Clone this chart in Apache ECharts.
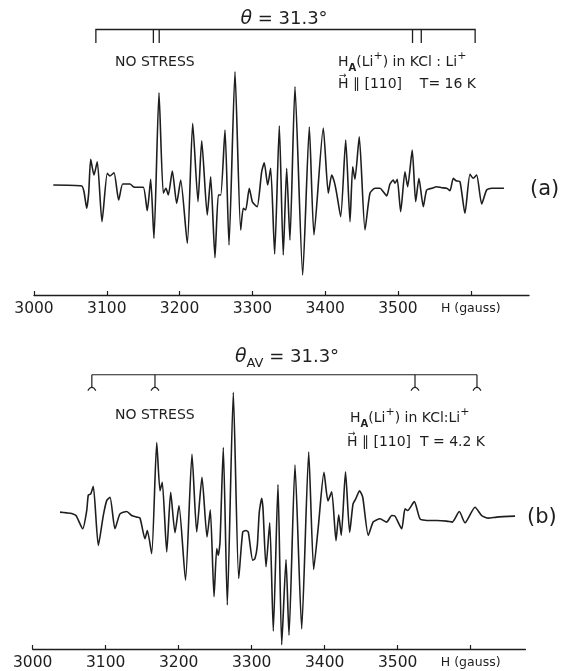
<!DOCTYPE html>
<html>
<head>
<meta charset="utf-8">
<script src="https://cdn.jsdelivr.net/npm/echarts@6/dist/echarts.min.js"></script>
<style>html,body{margin:0;padding:0;background:#fff}#c{width:563px;height:671px}</style>
</head>
<body>
<div id="c"></div>
<script>
// ---- data ----
const tickValues = [3000, 3100, 3200, 3300, 3400, 3500, 3600];
const tickLabels = ['3000', '3100', '3200', '3300', '3400', '3500', 'H (gauss)'];

// spectrum (a): field (gauss) and derivative signal (arb.)
const fieldA = [3026.5,3065.5,3068.7,3072.4,3075.1,3077.9,3082.4,3086.9,3093.4,3100.7,3104.4,3109.9,3116.3,3121.8,3127.3,3131.9,3136.4,3141.1,3150.1,3155.6,3160.3,3164.8,3171.7,3177.6,3181.3,3184.5,3190,3196,3201.5,3210.6,3218,3225.3,3230.4,3238,3242.7,3248.6,3253.2,3256.5,3262.4,3267.9,3276.1,3283.9,3287.5,3290.8,3295.7,3299.9,3303.6,3306.7,3312.8,3316.3,3321,3325.1,3330.6,3337,3342.4,3347.1,3351.6,3358.5,3369.1,3378.2,3384.6,3397.4,3404.3,3408.9,3412.5,3415.8,3421.3,3428.2,3434.1,3437.8,3440.9,3446.8,3454.7,3461.5,3468.4,3475.3,3479.8,3484.5,3489,3493.5,3495.9,3499,3503.7,3509.6,3513.3,3519.6,3524.3,3528.8,3534.8,3539.4,3546.3,3553.2,3560,3566.9,3571.4,3576,3579.7,3585.2,3592,3598.9,3603.4,3608.1,3615,3621.8,3628.7,3645.6];
const signalA = [0,-1,-6.7,-23.3,-8.3,25.7,10,23.3,-36.7,11.7,9,12.3,-15,1,1,1,-1.7,-2.3,-2.3,-25.7,5.7,-53.3,92.3,-8.3,-3.3,-10,14,-18.3,5,-58.3,61.7,-16.7,44.3,-30,8.3,-72.7,-10,-10,55,-60,113.3,-45,-23.3,-25,-3.3,-16.7,-20,-21.7,13.3,22.3,0,16.7,-69,59.3,-70,16.7,-55,98.3,-90,58,-50,57,-8.3,10,3.3,-8.3,-31.7,45,-36.7,18.3,5.7,48.3,-45,-8.3,-3.3,-3.3,-6.7,-11,1,5,1.7,5.7,-26.7,13.3,-1.7,35,-16.7,6.7,-21.7,-5,-3.3,-1.7,-2.7,-3.3,-5.7,6.7,4.3,3.3,-28.3,10.7,6.7,10,-19,-5,-3.3,-3.3];

// spectrum (b)
const fieldB = [3037.4,3046.6,3053.4,3059.3,3068.5,3074,3076.2,3079.5,3083,3089.9,3096.7,3101.4,3105.9,3112.7,3119.6,3128.8,3135.6,3142.5,3147,3153.8,3157,3163,3169.9,3174.4,3177.5,3183.6,3189,3194.9,3200.4,3209.3,3218.2,3224.7,3231.9,3238.8,3243.3,3248.4,3252.1,3254.2,3256.6,3261.1,3266.6,3274.8,3282.2,3287.7,3292.2,3295.3,3301.4,3304.5,3307.7,3310.4,3313.7,3315.5,3319.6,3324.7,3329.6,3336,3341.1,3347,3351.1,3359.3,3368.5,3378.1,3384.9,3391.2,3399,3404.5,3409.6,3415.5,3419.2,3422.7,3428.5,3434.2,3438.8,3442.5,3447.7,3452.1,3459.7,3466.6,3475.8,3484.9,3491.8,3496.3,3505.5,3510,3513.7,3522.7,3530.5,3539.7,3553.4,3567.1,3574.8,3584.4,3592.2,3605.9,3615.1,3624.1,3635.6,3660.7];
const signalB = [1.7,1,0.3,-1.7,-15,3.3,19,20,27.7,-31.7,-1.7,13.3,16.7,-15,0,2.3,-1.7,-3.3,-4.3,-25,-16.7,-40,71.7,23.3,31.7,-38.3,21.7,-19,8.3,-66.7,60,-18.3,36.7,-23.3,4,-83.3,-35,-41.7,-28.3,66.7,-91.7,122.3,-65,-18.3,-16.7,-18.3,-46.7,-45,-31.7,1.7,15.7,5,-53.3,-9,-118,29.5,-131.7,-46,-122,49,-115.7,62.3,-56,-13.3,41.7,13,22.3,-27,-1,-21.7,42.3,-18.7,10,15,23.3,16.7,-21.7,-8,-5,-8.3,-1.7,-2.3,-15,5,3.3,12.3,-5,-6.7,-6.7,-7.3,-8.3,2.3,-9,6.7,-1.7,-4.3,-3.3,-2.3];

// stick diagrams (line positions, gauss)
const bracketA = [3085, 3606];
const sticksA = [3164, 3172, 3520, 3532];
const sticksB = [3081, 3167.5, 3523.7, 3608.6];

// ---- build ----
const zip = (xs, ys) => xs.map((x, i) => [x, ys[i]]);
const INK = '#1e1e1e';
const FONT = 'DejaVu Sans';

const barTopA = 155.5, barLowA = 142;
const stickDataA = [{coords: [[bracketA[0], barLowA], [bracketA[0], barTopA], [bracketA[1], barTopA], [bracketA[1], barLowA]]}]
  .concat(sticksA.map(g => ({coords: [[g, barTopA], [g, barLowA]]})));

const barTopB = 140, barLowB = 127.5;
const stickDataB = [{coords: [[sticksB[0], barTopB], [sticksB[sticksB.length - 1], barTopB]]}];
sticksB.forEach(g => {
  stickDataB.push({coords: [[g, barTopB], [g, barLowB]]});
  stickDataB.push({coords: [[g - 5.5, barLowB - 3.5], [g - 3, barLowB - 1], [g, barLowB], [g + 3, barLowB - 1], [g + 5.5, barLowB - 3.5]]});
});

function xAxisCfg(gridIndex, max) {
  return {
    type: 'value', gridIndex: gridIndex, min: 3000, max: max,
    axisLine: {show: true, onZero: false, lineStyle: {color: INK, width: 1.3}},
    axisTick: {show: true, inside: true, length: 4, customValues: tickValues, lineStyle: {color: INK, width: 1.2}},
    axisLabel: {
      customValues: tickValues, margin: 6, color: INK, fontFamily: FONT, fontSize: 15.5,
      formatter: v => {
        const i = tickValues.indexOf(v);
        if (i < 0) return '';
        return i === tickValues.length - 1 ? '{u|' + tickLabels[i] + '}' : tickLabels[i];
      },
      rich: {u: {fontSize: 12.5, fontFamily: FONT, color: INK, padding: [1, 0, 0, 0]}}
    },
    splitLine: {show: false}
  };
}

const richLabel = {
  m: {fontSize: 14, fontFamily: FONT, lineHeight: 22, verticalAlign: 'middle', fill: INK},
  s: {fontSize: 10, fontFamily: FONT, fontWeight: 'bold', lineHeight: 9, verticalAlign: 'bottom', fill: INK},
  p: {fontSize: 11, fontFamily: FONT, lineHeight: 11, verticalAlign: 'top', fill: INK},
  big: {fontSize: 18, fontFamily: FONT, lineHeight: 26, verticalAlign: 'middle', fill: INK},
  th: {fontSize: 19, fontFamily: FONT, fontStyle: 'italic', lineHeight: 26, verticalAlign: 'middle', fill: INK},
  sub: {fontSize: 13, fontFamily: FONT, lineHeight: 12, verticalAlign: 'bottom', fill: INK}
};
function txt(x, y, text, align, extra) {
  return {
    type: 'text', x: x, y: y, silent: true,
    style: Object.assign({text: text, fill: INK, font: '14px "DejaVu Sans"', align: align || 'left', verticalAlign: 'middle', rich: richLabel}, extra || {})
  };
}

const graphics = [
  txt(284, 19, '{th|θ}{big| = 31.3°}', 'center'),
  txt(115, 62, '{m|NO STRESS}'),
  txt(338, 62, '{m|H}{s|A}{m|(Li}{p|+}{m|) in KCl : Li}{p|+}'),
  txt(338, 84, '{m|H ∥ [110]    T= 16 K}'),
  txt(339, 76, '→', 'left', {font: '9px "DejaVu Sans"'}),
  txt(530, 190, '(a)', 'left', {font: '21px "DejaVu Sans"'}),

  txt(287, 357, '{th|θ}{sub|AV}{big| = 31.3°}', 'center'),
  txt(115, 415, '{m|NO STRESS}'),
  txt(350, 418, '{m|H}{s|A}{m|(Li}{p|+}{m|) in KCl:Li}{p|+}'),
  txt(347, 442, '{m|H ∥ [110]  T = 4.2 K}'),
  txt(348, 434, '→', 'left', {font: '9px "DejaVu Sans"'}),
  txt(527, 518, '(b)', 'left', {font: '21px "DejaVu Sans"'})
];

const chart = echarts.init(document.getElementById('c'), null, {renderer: 'canvas'});
chart.setOption({
  animation: false,
  backgroundColor: '#fff',
  grid: [
    {left: 34, width: 495, top: 0, height: 295},
    {left: 32.7, width: 492.75, top: 331, height: 320}
  ],
  xAxis: [xAxisCfg(0, 3680), xAxisCfg(1, 3675)],
  yAxis: [
    {type: 'value', gridIndex: 0, min: -110, max: 185, show: false},
    {type: 'value', gridIndex: 1, min: -136, max: 184, show: false}
  ],
  series: [
    {type: 'line', xAxisIndex: 0, yAxisIndex: 0, data: zip(fieldA, signalA), showSymbol: false, smooth: 0.2,
     lineStyle: {color: INK, width: 1.6}, silent: true},
    {type: 'line', xAxisIndex: 1, yAxisIndex: 1, data: zip(fieldB, signalB), showSymbol: false, smooth: 0.2,
     lineStyle: {color: INK, width: 1.6}, silent: true},
    {type: 'lines', coordinateSystem: 'cartesian2d', xAxisIndex: 0, yAxisIndex: 0, polyline: true, data: stickDataA,
     lineStyle: {color: INK, width: 1.3, opacity: 1}, silent: true},
    {type: 'lines', coordinateSystem: 'cartesian2d', xAxisIndex: 1, yAxisIndex: 1, polyline: true, data: stickDataB,
     lineStyle: {color: INK, width: 1.2, opacity: 1}, silent: true}
  ],
  graphic: graphics
});
</script>
</body>
</html>
